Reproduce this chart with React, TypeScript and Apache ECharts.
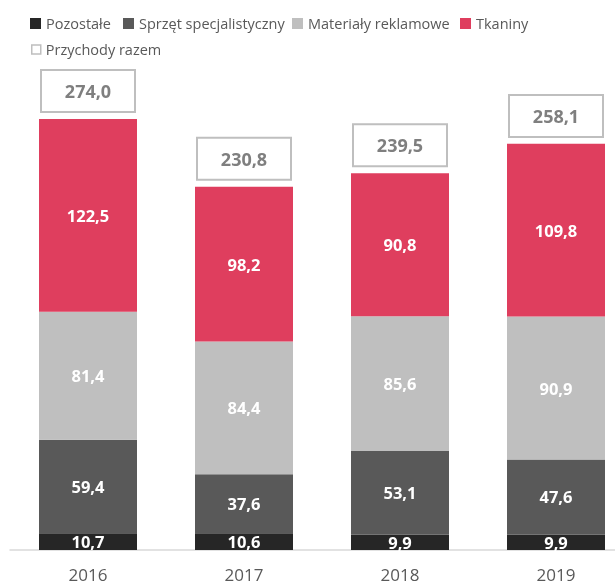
import React, { useEffect, useRef } from "react";
import * as echarts from "echarts";

const years = ["2016", "2017", "2018", "2019"];
const pozostale = [10.7, 10.6, 9.9, 9.9];
const sprzet = [59.4, 37.6, 53.1, 47.6];
const materialy = [81.4, 84.4, 85.6, 90.9];
const tkaniny = [122.5, 98.2, 90.8, 109.8];
const razem = [274.0, 230.8, 239.5, 258.1];

const FONT = "Open Sans";
const fmt = (v: number) => v.toFixed(1).replace(".", ",");

export default function App() {
  const ref = useRef<HTMLDivElement>(null);
  useEffect(() => {
    const chart = echarts.init(ref.current!, null, { renderer: "svg" });
    const segLabel = {
      show: true,
      position: "inside",
      color: "#ffffff",
      fontWeight: "bold",
      fontSize: 16.5,
      fontFamily: FONT,
      formatter: (p: any) => fmt(p.value),
    };
    const mk = (name: string, data: number[], color: string) => ({
      name,
      type: "bar",
      stack: "s",
      barWidth: 98,
      data,
      itemStyle: { color },
      label: segLabel,
    });
    const legendText = { color: "#595959", fontSize: 14.5, fontFamily: FONT };
    const oneLegend = (name: any, left: number, top: number, size = 11) => ({
      data: [name],
      left,
      top,
      itemWidth: size,
      itemHeight: size,
      icon: "rect",
      textStyle: legendText,
    });
    chart.setOption({
      animation: false,
      textStyle: { fontFamily: FONT },
      legend: [
        oneLegend("Pozostałe", 25, 11),
        oneLegend("Sprzęt specjalistyczny", 118, 11),
        oneLegend("Materiały reklamowe", 287, 11),
        oneLegend("Tkaniny", 455, 11),
        oneLegend(
          {
            name: "Przychody razem",
            itemStyle: { color: "#ffffff", borderColor: "#bfbfbf", borderWidth: 1.5 },
          },
          26,
          37,
          9
        ),
      ],
      grid: { left: 10, right: 0, top: 78, bottom: 35 },
      xAxis: {
        type: "category",
        data: years,
        axisLine: { lineStyle: { color: "#d9d9d9", width: 1.5 } },
        axisTick: { show: false },
        axisLabel: { color: "#595959", fontSize: 17, margin: 16, fontFamily: FONT },
      },
      yAxis: { type: "value", min: 0, max: 300, show: false, splitLine: { show: false } },
      series: [
        mk("Pozostałe", pozostale, "#262626"),
        mk("Sprzęt specjalistyczny", sprzet, "#595959"),
        mk("Materiały reklamowe", materialy, "#bfbfbf"),
        mk("Tkaniny", tkaniny, "#df3e5e"),
        {
          name: "Przychody razem",
          type: "bar",
          barWidth: 98,
          barGap: "-100%",
          data: razem,
          itemStyle: { color: "rgba(0,0,0,0)" },
          z: 1,
          label: {
            show: true,
            position: "top",
            distance: 8,
            formatter: (p: any) => fmt(p.value),
            color: "#7f7f7f",
            fontWeight: "bold",
            fontSize: 18,
            fontFamily: FONT,
            backgroundColor: "#ffffff",
            borderColor: "#bfbfbf",
            borderWidth: 2,
            width: 92,
            align: "center",
            padding: [11, 0, 11, 0],
          },
        },
      ],
    });
    return () => chart.dispose();
  }, []);
  return (
    <div style={{ position: "fixed", left: 0, top: 0, width: 615, height: 585, overflow: "hidden" }}>
      <div ref={ref} style={{ width: 634, height: 585 }} />
    </div>
  );
}
